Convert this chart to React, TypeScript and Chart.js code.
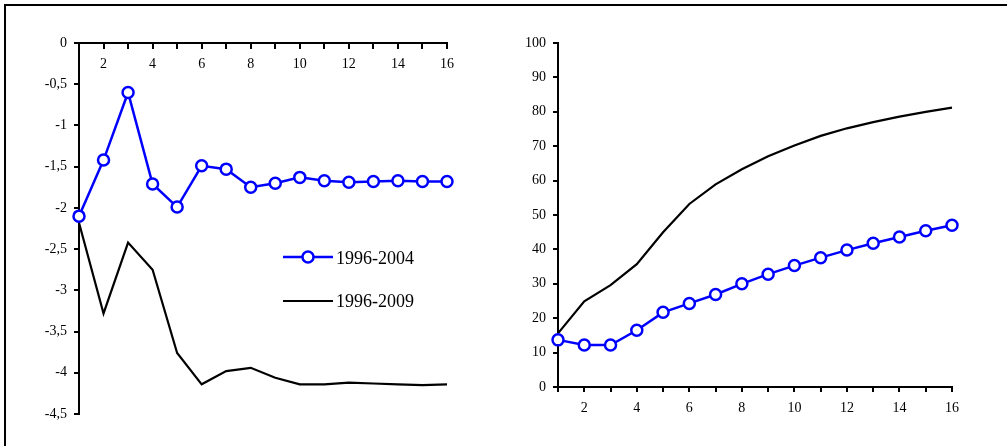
import React, { useEffect, useRef } from 'react';
import { Chart, registerables } from 'chart.js';

Chart.register(...registerables);

const periods = [1, 2, 3, 4, 5, 6, 7, 8, 9, 10, 11, 12, 13, 14, 15, 16];
const seriesLabels = ['1996-2004', '1996-2009'];
const left2004 = [-2.1, -1.42, -0.6, -1.71, -1.99, -1.49, -1.53, -1.75, -1.7, -1.63, -1.67, -1.69, -1.68, -1.67, -1.68, -1.68];
const left2009 = [-2.18, -3.28, -2.42, -2.75, -3.76, -4.14, -3.98, -3.94, -4.06, -4.14, -4.14, -4.12, -4.13, -4.14, -4.15, -4.14];
const right2004 = [13.7, 12.2, 12.2, 16.5, 21.7, 24.3, 26.9, 30.0, 32.8, 35.3, 37.6, 39.8, 41.8, 43.6, 45.4, 47.0];
const right2009 = [15.6, 24.9, 29.6, 35.7, 45.0, 53.2, 58.9, 63.3, 67.1, 70.2, 73.0, 75.2, 77.0, 78.6, 80.0, 81.2];
const leftYRange = [-4.5, 0, 0.5];
const rightYRange = [0, 100, 10];

const FONT = "'Liberation Serif', 'Times New Roman', serif";
const BLUE = '#0000ff';
const BLACK = '#000000';

function toPoints(values: number[]) {
  return values.map((v, i) => ({ x: periods[i], y: v }));
}

function makeDatasets(blue: number[], black: number[]) {
  return [
    {
      label: seriesLabels[0],
      data: toPoints(blue),
      borderColor: BLUE,
      borderWidth: 2.5,
      pointRadius: 5.5,
      pointBorderWidth: 2.5,
      pointBackgroundColor: '#ffffff',
      pointBorderColor: BLUE,
      tension: 0,
      clip: false as const,
    },
    {
      label: seriesLabels[1],
      data: toPoints(black),
      borderColor: BLACK,
      borderWidth: 2.2,
      pointRadius: 0,
      tension: 0,
      clip: false as const,
    },
  ];
}

const tickFont = { family: FONT, size: 14 };

function axisGrid() {
  return {
    display: true,
    drawOnChartArea: false,
    drawTicks: true,
    tickLength: 5,
    color: BLACK,
    lineWidth: 2,
  };
}

function makeOptions(opts: {
  yRange: number[];
  yWidth: number;
  xPos: any;
  xHeight?: number;
  padding: { top: number; right: number; bottom: number; left: number };
}) {
  const xScale: any = {
    type: 'linear',
    min: periods[0],
    max: periods[periods.length - 1],
    position: opts.xPos,
    grid: axisGrid(),
    border: { display: true, color: BLACK, width: 2 },
    ticks: {
      stepSize: 1,
      autoSkip: false,
      maxRotation: 0,
      padding: 8,
      color: BLACK,
      font: tickFont,
      callback: (v: number) => (v % 2 === 0 ? String(v) : ''),
    },
  };
  if (opts.xHeight !== undefined) {
    const h = opts.xHeight;
    xScale.afterFit = (s: any) => {
      s.height = h;
    };
  }
  return {
    responsive: false,
    animation: false as const,
    layout: { padding: opts.padding },
    plugins: { legend: { display: false }, tooltip: { enabled: false } },
    scales: {
      x: xScale,
      y: {
        type: 'linear',
        position: 'left',
        min: opts.yRange[0],
        max: opts.yRange[1],
        grid: axisGrid(),
        border: { display: true, color: BLACK, width: 2 },
        afterFit: (s: any) => {
          s.width = opts.yWidth;
        },
        ticks: {
          stepSize: opts.yRange[2],
          padding: 7,
          color: BLACK,
          font: tickFont,
          callback: (v: number) => String(v).replace('.', ','),
        },
      },
    },
  };
}

function ChartCanvas(props: { width: number; height: number; left: number; config: any }) {
  const ref = useRef<HTMLCanvasElement | null>(null);
  useEffect(() => {
    if (!ref.current) return;
    const chart = new Chart(ref.current, props.config);
    return () => chart.destroy();
  }, []);
  return (
    <canvas
      ref={ref}
      width={props.width}
      height={props.height}
      style={{ position: 'absolute', left: props.left, top: 0, width: props.width, height: props.height }}
    />
  );
}

export default function App() {
  const leftConfig = {
    type: 'line',
    data: { datasets: makeDatasets(left2004, left2009) },
    options: makeOptions({
      yRange: leftYRange,
      yWidth: 79,
      xPos: { y: 0 },
      padding: { top: 43, right: 53, bottom: 32, left: 0 },
    }),
  };
  const rightConfig = {
    type: 'line',
    data: { datasets: makeDatasets(right2004, right2009) },
    options: makeOptions({
      yRange: rightYRange,
      yWidth: 58,
      xPos: 'bottom',
      xHeight: 59,
      padding: { top: 43, right: 55, bottom: 0, left: 0 },
    }),
  };

  const legendText: React.CSSProperties = {
    position: 'absolute',
    fontFamily: FONT,
    fontSize: 18,
    lineHeight: '18px',
    color: '#000',
    whiteSpace: 'nowrap',
  };

  return (
    <div
      style={{
        position: 'fixed',
        left: 0,
        top: 0,
        width: 1007,
        height: 446,
        background: '#fff',
        overflow: 'hidden',
      }}
    >
      <ChartCanvas width={500} height={446} left={0} config={leftConfig} />
      <ChartCanvas width={507} height={446} left={500} config={rightConfig} />
      <div
        style={{
          position: 'absolute',
          left: 4,
          top: 4,
          width: 1020,
          height: 460,
          borderTop: '2px solid #000',
          borderLeft: '2px solid #000',
          boxSizing: 'border-box',
        }}
      />
      <svg style={{ position: 'absolute', left: 0, top: 0 }} width={500} height={446}>
        <line x1={283} y1={257} x2={333} y2={257} stroke={BLUE} strokeWidth={2.5} />
        <circle cx={308} cy={257} r={5.5} fill="#fff" stroke={BLUE} strokeWidth={2.5} />
        <line x1={283} y1={301} x2={333} y2={301} stroke={BLACK} strokeWidth={2.2} />
      </svg>
      <span style={{ ...legendText, left: 336, top: 249 }}>{seriesLabels[0]}</span>
      <span style={{ ...legendText, left: 336, top: 292 }}>{seriesLabels[1]}</span>
    </div>
  );
}
